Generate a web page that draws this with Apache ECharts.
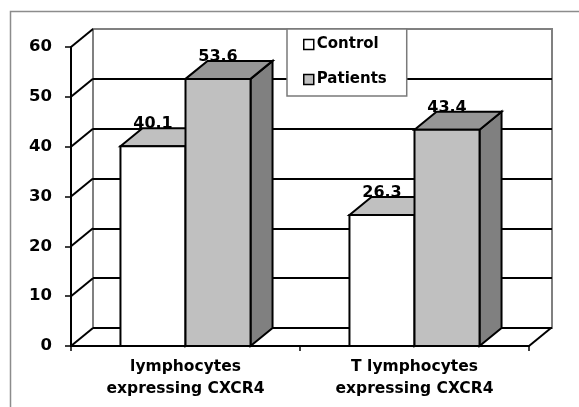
<!DOCTYPE html>
<html>
<head>
<meta charset="utf-8">
<script src="https://cdn.jsdelivr.net/npm/echarts@6/dist/echarts.min.js"></script>
<style>
  html, body { margin: 0; padding: 0; background: #fff; }
  #chart { width: 579px; height: 407px; }
</style>
</head>
<body>
<div id="chart"></div>
<script>
// Categories and values
const categories = ['lymphocytes\nexpressing CXCR4', 'T lymphocytes\nexpressing CXCR4'];
const controlValues = [40.1, 26.3];
const patientValues = [53.6, 43.4];
const yTicks = [0, 10, 20, 30, 40, 50, 60];
const seriesNames = ['Control', 'Patients'];

// Depth of the pseudo-3D box (pixels), shared by walls and columns
const DX = 22, DY = -18;
const FONT = '"DejaVu Sans", Verdana, sans-serif';

const palette = {
  Control:  { front: '#ffffff', top: '#c0c0c0', side: '#808080' },
  Patients: { front: '#c0c0c0', top: '#969696', side: '#808080' }
};

// Draws one 3D column: side face, top face, front face and value label
function columnRenderer(side, colors) {
  return function (params, api) {
    const cat = api.value(0);
    const val = api.value(1);
    const base = api.coord([cat, 0]);
    const top = api.coord([cat, val]);
    const band = api.size([1, 0])[0];
    const w = band * 0.284;
    const x0 = side < 0 ? base[0] - w : base[0];
    const x1 = x0 + w;
    const yT = top[1], yB = base[1];
    const line = { stroke: '#000', lineWidth: 2, lineJoin: 'miter' };
    return {
      type: 'group',
      children: [
        { type: 'polygon', shape: { points: [[x1, yB], [x1 + DX, yB + DY], [x1 + DX, yT + DY], [x1, yT]] },
          style: Object.assign({ fill: colors.side }, line) },
        { type: 'polygon', shape: { points: [[x0, yT], [x0 + DX, yT + DY], [x1 + DX, yT + DY], [x1, yT]] },
          style: Object.assign({ fill: colors.top }, line) },
        { type: 'rect', shape: { x: x0, y: yT, width: w, height: yB - yT },
          style: Object.assign({ fill: colors.front }, line) },
        { type: 'text', x: (x0 + x1) / 2, y: yT - 22,
          style: { text: val.toFixed(1), fill: '#000', font: 'bold 16px ' + FONT,
                   align: 'center', verticalAlign: 'middle' } }
      ]
    };
  };
}

// Left side wall and right floor edge, from the front axis to the back wall
function wallRenderer(params, api) {
  const cs = params.coordSys;
  const v = api.value(1);
  const p = api.coord([0, v]);
  const children = [
    { type: 'line', shape: { x1: cs.x, y1: p[1], x2: cs.x + DX, y2: p[1] + DY },
      style: { stroke: '#000', lineWidth: 2 } }
  ];
  if (v === 0) {
    const xr = cs.x + cs.width;
    children.push({ type: 'line', shape: { x1: xr, y1: p[1], x2: xr + DX, y2: p[1] + DY },
      style: { stroke: '#000', lineWidth: 2 } });
  }
  return { type: 'group', children: children };
}

const chart = echarts.init(document.getElementById('chart'), null, { renderer: 'canvas' });

const backLineColors = yTicks.map((v, i) => i === yTicks.length - 1 ? '#808080' : '#000000');

chart.setOption({
  animation: false,
  backgroundColor: '#ffffff',
  graphic: [
    { type: 'rect', left: 8, top: 9, shape: { width: 640, height: 440 },
      style: { fill: 'none', stroke: '#8c8c8c', lineWidth: 1.5 }, z: -10, silent: true }
  ],
  grid: [
    // front plane
    { left: 71, right: 50, top: 47, bottom: 61 },
    // back wall
    { left: 93, right: 27, top: 29, bottom: 79, show: true,
      borderColor: '#808080', borderWidth: 2, backgroundColor: 'transparent' }
  ],
  xAxis: [
    { type: 'category', gridIndex: 0, data: categories,
      axisLine: { lineStyle: { color: '#000', width: 2 } },
      axisTick: { show: true, length: 5, alignWithLabel: false, interval: 0,
                  lineStyle: { color: '#000', width: 1.5 } },
      axisLabel: { margin: 10, color: '#000', fontFamily: FONT, fontWeight: 'bold',
                   fontSize: 15.5, lineHeight: 22, interval: 0 } },
    { type: 'category', gridIndex: 1, data: categories, show: false }
  ],
  yAxis: [
    { type: 'value', gridIndex: 0, min: 0, max: 60, interval: 10,
      axisLine: { show: true, lineStyle: { color: '#000', width: 2 } },
      axisTick: { show: true, length: 6, lineStyle: { color: '#000', width: 1.5 } },
      splitLine: { show: false },
      axisLabel: { margin: 19, color: '#000', fontFamily: FONT, fontWeight: 'bold', fontSize: 16.5 } },
    { type: 'value', gridIndex: 1, min: 0, max: 60, interval: 10,
      axisLine: { show: false }, axisTick: { show: false }, axisLabel: { show: false },
      splitLine: { show: true, lineStyle: { color: backLineColors, width: 2 } } }
  ],
  legend: {
    orient: 'vertical', left: 287, top: 29,
    padding: [8, 20, 9, 16], itemGap: 20,
    backgroundColor: '#ffffff', borderColor: '#7a7a7a', borderWidth: 1.5,
    itemWidth: 10, itemHeight: 10, itemStyle: { borderColor: '#000', borderWidth: 1.5 },
    textStyle: { color: '#000', fontFamily: FONT, fontWeight: 'bold', fontSize: 15, padding: [0, 0, 0, -2] },
    data: seriesNames.map(n => ({ name: n, icon: 'rect',
      itemStyle: { color: palette[n].front, borderColor: '#000', borderWidth: 1.5 } })),
    z: 20
  },
  series: [
    { type: 'custom', name: 'walls', xAxisIndex: 0, yAxisIndex: 0, silent: true,
      data: yTicks.map(v => [0, v]), renderItem: wallRenderer, z: 1 },
    { type: 'custom', name: seriesNames[0], xAxisIndex: 0, yAxisIndex: 0,
      itemStyle: { color: palette.Control.front },
      data: controlValues.map((v, i) => [i, v]),
      renderItem: columnRenderer(-1, palette.Control), z: 3 },
    { type: 'custom', name: seriesNames[1], xAxisIndex: 0, yAxisIndex: 0,
      itemStyle: { color: palette.Patients.front },
      data: patientValues.map((v, i) => [i, v]),
      renderItem: columnRenderer(1, palette.Patients), z: 4 }
  ]
});
</script>
</body>
</html>
